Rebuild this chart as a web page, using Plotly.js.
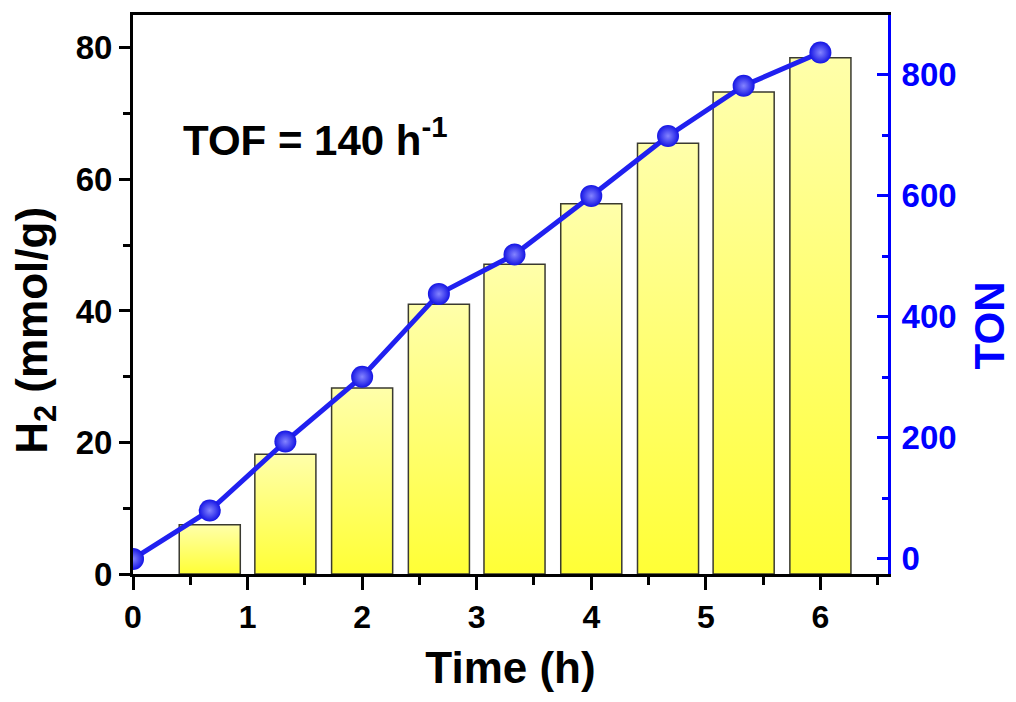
<!DOCTYPE html>
<html>
<head>
<meta charset="utf-8">
<script src="https://cdn.plot.ly/plotly-3.0.1.min.js"></script>
<style>
  html, body { margin: 0; padding: 0; background: #ffffff; }
  #chart { width: 1016px; height: 702px; }
</style>
</head>
<body>
<div id="chart"></div>
<script>
// Hydrogen evolution over time (bars, left axis) and turnover number (spheres, right axis)
const barTime = [0.67, 1.33, 2, 2.67, 3.33, 4, 4.67, 5.33, 6];
const h2Amount = [7.5, 18.2, 28.3, 41.0, 47.1, 56.3, 65.5, 73.3, 78.5];

const tonTime = [0, 0.67, 1.33, 2, 2.67, 3.33, 4, 4.67, 5.33, 6];
const tonValues = [0, 80, 194, 301, 438, 503, 600, 699, 782, 837];

const xTickVals = [0, 1, 2, 3, 4, 5, 6];
const yTickVals = [0, 20, 40, 60, 80];
const y2TickVals = [0, 200, 400, 600, 800];

const FONT = 'Liberation Sans, Arial, sans-serif';
const BLUE = '#0000ff';

const bars = {
  type: 'bar',
  x: barTime,
  y: h2Amount,
  width: 0.533,
  marker: {
    color: '#ffff70',
    line: { color: '#3a3a30', width: 1.5 }
  },
  yaxis: 'y',
  hoverinfo: 'skip',
  showlegend: false
};

const ton = {
  type: 'scatter',
  mode: 'lines+markers',
  x: tonTime,
  y: tonValues,
  yaxis: 'y2',
  line: { color: '#2020f0', width: 5 },
  marker: {
    size: 22,
    color: '#1414e4',
    gradient: { type: 'radial', color: '#8484ff' },
    line: { width: 0 }
  },
  cliponaxis: true,
  hoverinfo: 'skip',
  showlegend: false
};

const layout = {
  width: 1016,
  height: 702,
  margin: { l: 133, r: 128, t: 15, b: 128, pad: 0 },
  paper_bgcolor: '#ffffff',
  plot_bgcolor: '#ffffff',
  font: { family: FONT, weight: 700, color: '#000000' },
  xaxis: {
    range: [0, 6.59],
    tickvals: xTickVals,
    ticktext: xTickVals.map(String),
    ticks: 'outside',
    ticklen: 13,
    tickwidth: 3,
    tickcolor: '#000000',
    minor: { dtick: 0.5, tick0: 0, ticks: 'outside', ticklen: 8, tickwidth: 3, tickcolor: '#000000' },
    showline: true,
    linewidth: 3,
    linecolor: '#000000',
    mirror: true,
    showgrid: false,
    zeroline: false,
    tickfont: { family: FONT, size: 32, weight: 700, color: '#000000' },
    title: { text: 'Time (h)', standoff: 18, font: { family: FONT, size: 44, weight: 700, color: '#000000' } }
  },
  yaxis: {
    range: [0, 85],
    tickvals: yTickVals,
    ticktext: yTickVals.map(String),
    ticks: 'outside',
    ticklen: 11,
    tickwidth: 3,
    tickcolor: '#000000',
    minor: { dtick: 10, tick0: 0, ticks: 'outside', ticklen: 7, tickwidth: 3, tickcolor: '#000000' },
    showline: true,
    linewidth: 3,
    linecolor: '#000000',
    showgrid: false,
    zeroline: false,
    tickfont: { family: FONT, size: 33, weight: 700, color: '#000000' }
  },
  yaxis2: {
    overlaying: 'y',
    side: 'right',
    range: [-25, 899],
    tickvals: y2TickVals,
    ticktext: y2TickVals.map(String),
    ticks: 'inside',
    ticklen: 11,
    tickwidth: 3,
    tickcolor: BLUE,
    minor: { dtick: 100, tick0: 0, ticks: 'inside', ticklen: 6, tickwidth: 3, tickcolor: BLUE },
    showline: true,
    linewidth: 3,
    linecolor: BLUE,
    showgrid: false,
    zeroline: false,
    ticklabelstandoff: 4,
    tickfont: { family: FONT, size: 33, weight: 700, color: BLUE }
  },
  annotations: [
    {
      text: 'H<sub>2</sub> (mmol/g)',
      xref: 'paper', yref: 'paper',
      x: -0.13, y: 0.4365,
      xanchor: 'center', yanchor: 'middle',
      textangle: -90,
      showarrow: false,
      font: { family: FONT, size: 44, weight: 700, color: '#000000' }
    },
    {
      text: 'TON',
      xref: 'paper', yref: 'paper',
      x: 1.134, y: 0.445,
      xanchor: 'center', yanchor: 'middle',
      textangle: -90,
      showarrow: false,
      borderpad: 0,
      font: { family: FONT, size: 42, weight: 700, color: BLUE }
    },
    {
      text: 'TOF = 140 h<sup>-1</sup>',
      xref: 'paper', yref: 'paper',
      x: 0.064, y: 0.781,
      xanchor: 'left', yanchor: 'middle',
      showarrow: false,
      font: { family: FONT, size: 42, weight: 700, color: '#000000' }
    }
  ]
};

Plotly.newPlot('chart', [bars, ton], layout, { staticPlot: true, displayModeBar: false }).then(function (gd) {
  // Vertical pale-to-bright yellow fill on each bar
  const svg = gd.querySelector('svg.main-svg');
  const ns = 'http://www.w3.org/2000/svg';
  let defs = svg.querySelector('defs');
  if (!defs) { defs = document.createElementNS(ns, 'defs'); svg.insertBefore(defs, svg.firstChild); }
  const grad = document.createElementNS(ns, 'linearGradient');
  grad.setAttribute('id', 'barFill');
  grad.setAttribute('x1', '0'); grad.setAttribute('y1', '0');
  grad.setAttribute('x2', '0'); grad.setAttribute('y2', '1');
  [['0%', '#ffffaa'], ['100%', '#ffff36']].forEach(function (s) {
    const stop = document.createElementNS(ns, 'stop');
    stop.setAttribute('offset', s[0]);
    stop.setAttribute('stop-color', s[1]);
    grad.appendChild(stop);
  });
  defs.appendChild(grad);
  gd.querySelectorAll('.barlayer .point path').forEach(function (p) {
    p.style.fill = 'url(#barFill)';
  });
});
</script>
</body>
</html>
